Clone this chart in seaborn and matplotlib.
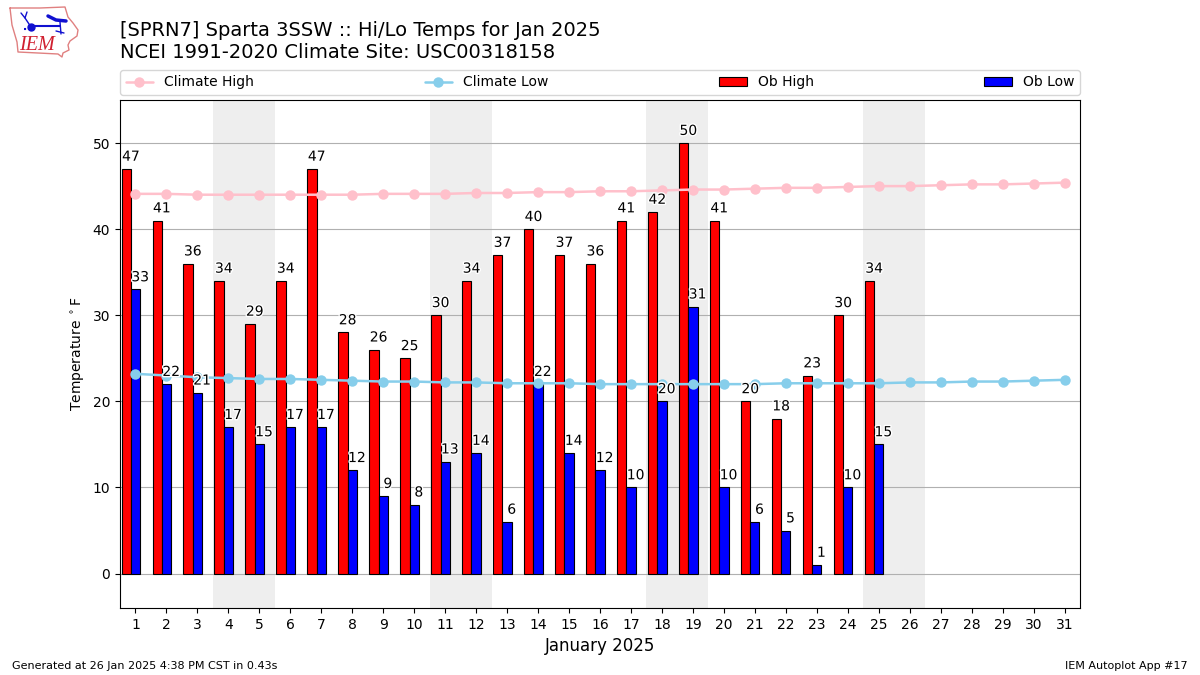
import pandas as pd
import seaborn as sns
import matplotlib
matplotlib.use("Agg")
import matplotlib.pyplot as plt
import matplotlib.patheffects as pe
from matplotlib.patches import Patch

days = list(range(1, 32))
ob_days = list(range(1, 26))
ob_high = [47, 41, 36, 34, 29, 34, 47, 28, 26, 25, 30, 34, 37, 40, 37, 36, 41, 42, 50, 41, 20, 18, 23, 30, 34]
ob_low = [33, 22, 21, 17, 15, 17, 17, 12, 9, 8, 13, 14, 6, 22, 14, 12, 10, 20, 31, 10, 6, 5, 1, 10, 15]
clim_high = [44.1, 44.1, 44.0, 44.0, 44.0, 44.0, 44.0, 44.0, 44.1, 44.1, 44.1, 44.2, 44.2, 44.3, 44.3, 44.4,
             44.4, 44.5, 44.6, 44.6, 44.7, 44.8, 44.8, 44.9, 45.0, 45.0, 45.1, 45.2, 45.2, 45.3, 45.4]
clim_low = [23.2, 23.0, 22.8, 22.7, 22.6, 22.6, 22.5, 22.4, 22.3, 22.3, 22.2, 22.2, 22.1, 22.1, 22.1, 22.0,
            22.0, 22.0, 22.0, 22.0, 22.0, 22.1, 22.1, 22.1, 22.1, 22.2, 22.2, 22.3, 22.3, 22.4, 22.5]
weekends = [4, 11, 18, 25]

# the bar pair sits left of the day tick, so shift the dodge centre
bar_shift = 0.15
bar_width = 0.3

df_ob = pd.DataFrame({'day': [d - bar_shift for d in ob_days] * 2,
                      'temp': ob_high + ob_low,
                      'kind': ['Ob High'] * len(ob_days) + ['Ob Low'] * len(ob_days)})
df_clim = pd.DataFrame({'day': days, 'high': clim_high, 'low': clim_low})

sns.set_style('ticks')
plt.rcParams['font.family'] = ['DejaVu Sans']
plt.rcParams['text.color'] = 'k'
plt.rcParams['axes.labelcolor'] = 'k'

fig = plt.figure(figsize=(12, 6.75), dpi=100)
ax = fig.add_axes([120 / 1200, 1 - 608 / 675, 960 / 1200, 508 / 675])

# weekend bands
for d in weekends:
    ax.axvspan(d - 0.5, d + 1.5, color='#eeeeee', lw=0, zorder=0)
ax.grid(axis='y', color='#b0b0b0', lw=0.8, zorder=1)
ax.set_axisbelow(True)

# bars
sns.barplot(data=df_ob, x='day', y='temp', hue='kind', native_scale=True, width=2 * bar_width, gap=0,
            palette={'Ob High': 'red', 'Ob Low': 'blue'}, edgecolor='k', linewidth=0.8,
            errorbar=None, legend=False, saturation=1, ax=ax, zorder=2)

# climate lines
sns.lineplot(data=df_clim, x='day', y='high', color='pink', marker='o', markersize=7.5,
             markeredgewidth=0, lw=1.8, label='Climate High', legend=False, ax=ax, zorder=3)
sns.lineplot(data=df_clim, x='day', y='low', color='skyblue', marker='o', markersize=7.5,
             markeredgewidth=0, lw=1.8, label='Climate Low', legend=False, ax=ax, zorder=3)

# value labels, centred on the right edge of each bar
halo = [pe.withStroke(linewidth=2, foreground='white')]
for i, d in enumerate(ob_days):
    ax.text(d - bar_shift, ob_high[i] + 0.6, str(ob_high[i]), ha='center', va='bottom', fontsize=10,
            color='k', path_effects=halo, zorder=5)
    ax.text(d + bar_shift, ob_low[i] + 0.6, str(ob_low[i]), ha='center', va='bottom', fontsize=10,
            color='k', path_effects=halo, zorder=5)

ax.set_xlim(0.5, 31.5)
ax.set_ylim(-4, 55)
ax.set_xticks(days)
ax.set_xticklabels([str(d) for d in days])
ax.set_yticks([0, 10, 20, 30, 40, 50])
ax.tick_params(labelsize=10, length=3.5, width=0.8, color='k', labelcolor='k')
for s in ax.spines.values():
    s.set_visible(True)
    s.set_color('k')
    s.set_linewidth(0.8)
ax.set_xlabel('January 2025', fontsize=12, color='k')
ax.set_ylabel(r'Temperature $^\circ$F', fontsize=10, color='k')

# legend strip above the axes
line_handles = ax.get_lines()
handles = [l for l in line_handles if l.get_label() in ('Climate High', 'Climate Low')]
handles += [Patch(facecolor='red', edgecolor='k', lw=0.8, label='Ob High'),
            Patch(facecolor='blue', edgecolor='k', lw=0.8, label='Ob Low')]
ax.legend(handles=handles, ncol=4, mode='expand', loc='lower left',
          bbox_to_anchor=(0, 1.01, 1, 0.05), borderaxespad=0, fontsize=10, frameon=True)

# titles and footer
fig.text(120 / 1200, 1 - 62 / 675, '[SPRN7] Sparta 3SSW :: Hi/Lo Temps for Jan 2025\n'
         'NCEI 1991-2020 Climate Site: USC00318158', fontsize=14, ha='left', va='bottom', color='k')
fig.text(12 / 1200, 1 - 671 / 675, 'Generated at 26 Jan 2025 4:38 PM CST in 0.43s', fontsize=8, va='bottom', color='k')
fig.text(1188 / 1200, 1 - 671 / 675, 'IEM Autoplot App #17', fontsize=8, ha='right', va='bottom', color='k')

# logo, drawn roughly in pixel space
logo = fig.add_axes([0, 0, 1, 1], zorder=-1)
logo.set_xlim(0, 1200)
logo.set_ylim(675, 0)
logo.axis('off')
logo.patch.set_alpha(0)
outline_x = [10, 40, 65, 68, 73, 78, 77, 70, 68, 69, 63, 62, 58, 18, 17, 12, 10]
outline_y = [8, 8, 7, 17, 23, 30, 36, 41, 45, 50, 53, 57, 54, 52, 42, 25, 8]
logo.plot(outline_x, outline_y, color='#e08080', lw=1)
logo.plot([31, 60], [26, 26], color='#1010d0', lw=1.5)
logo.plot([31], [27], 'o', color='#1010d0', ms=5)
logo.plot([25, 31], [18, 27], color='#1010d0', lw=1)
logo.plot([21, 25, 27], [13, 18, 12], color='#1010d0', lw=1)
logo.plot([48, 56, 66], [16, 20, 21], color='#1010d0', lw=2.5)
logo.plot([60, 61], [22, 34], color='#1010d0', lw=1)
logo.plot([56, 64], [31, 33], color='#1010d0', lw=1)
logo.plot([24, 27], [29, 29], ':', color='#1010d0', lw=1.5)
logo.text(37, 45, 'IEM', family='Liberation Serif', style='italic', fontsize=14.5, color='#d02030',
          ha='center', va='center')

fig.savefig('out.png', dpi=100)
